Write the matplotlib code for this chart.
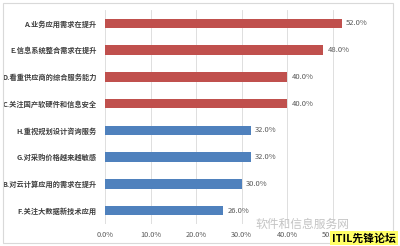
import matplotlib
matplotlib.use("Agg")
import matplotlib.pyplot as plt
from matplotlib.patches import Rectangle
from matplotlib.ticker import MultipleLocator, FuncFormatter

plt.rcParams['font.family'] = ['Noto Sans CJK SC', 'DejaVu Sans']

categories = [
    "A.业务应用需求在提升",
    "E.信息系统整合需求在提升",
    "D.看重供应商的综合服务能力",
    "C.关注国产软硬件和信息安全",
    "H.重视规划设计咨询服务",
    "G.对采购价格越来越敏感",
    "B.对云计算应用的需求在提升",
    "F.关注大数据新技术应用",
]
values = [52.0, 48.0, 40.0, 40.0, 32.0, 32.0, 30.0, 26.0]
groups = ["top", "top", "top", "top", "rest", "rest", "rest", "rest"]
group_colors = {"top": "#C0504D", "rest": "#4F81BD"}

text_color = "#595959"
grid_color = "#D9D9D9"

fig = plt.figure(figsize=(4.0, 2.46), dpi=100)
fig.patch.set_facecolor("white")

# chart border
fig.patches.append(Rectangle((3 / 400, 1 - 243 / 246), 390 / 400, 240 / 246,
                             transform=fig.transFigure, fill=False,
                             edgecolor=grid_color, linewidth=0.8))

ax = fig.add_axes([105 / 400, 1 - 224 / 246, 273 / 400, 214 / 246])
y = list(range(len(categories)))
colors = [group_colors[g] for g in groups]
ax.barh(y, values, height=0.35, color=colors, zorder=3)

ax.set_xlim(0, 60)
ax.set_ylim(len(categories) - 0.5, -0.5)
ax.xaxis.set_major_locator(MultipleLocator(10))
ax.xaxis.set_major_formatter(FuncFormatter(lambda v, p: f"{v:.1f}%"))
ax.set_yticks(y)
ax.set_yticklabels(categories, fontsize=5.2, color="#404040",
                   fontweight="bold")
ax.tick_params(axis="x", labelsize=5.3, colors=text_color, length=0, pad=5)
ax.tick_params(axis="y", length=0, pad=6)
ax.grid(axis="x", color=grid_color, linewidth=0.6, zorder=0)
for s in ax.spines.values():
    s.set_visible(False)

for yi, v in zip(y, values):
    ax.text(v + 1.0, yi, f"{v:.1f}%", va="center", ha="left",
            fontsize=5.5, color=text_color)

# watermark
fig.text(256 / 400, 1 - 224 / 246, "软件和信息服务网", fontsize=8.5,
         color="#C4C4C4", va="center", ha="left")
fig.text(332 / 400, 1 - 238 / 246, "ITIL先锋论坛", fontsize=7.8,
         color="black", va="center", ha="left", fontweight="bold",
         bbox=dict(boxstyle="square,pad=0.15", facecolor="#FFFF66",
                   edgecolor="none"))

fig.savefig("out.png", dpi=100)
